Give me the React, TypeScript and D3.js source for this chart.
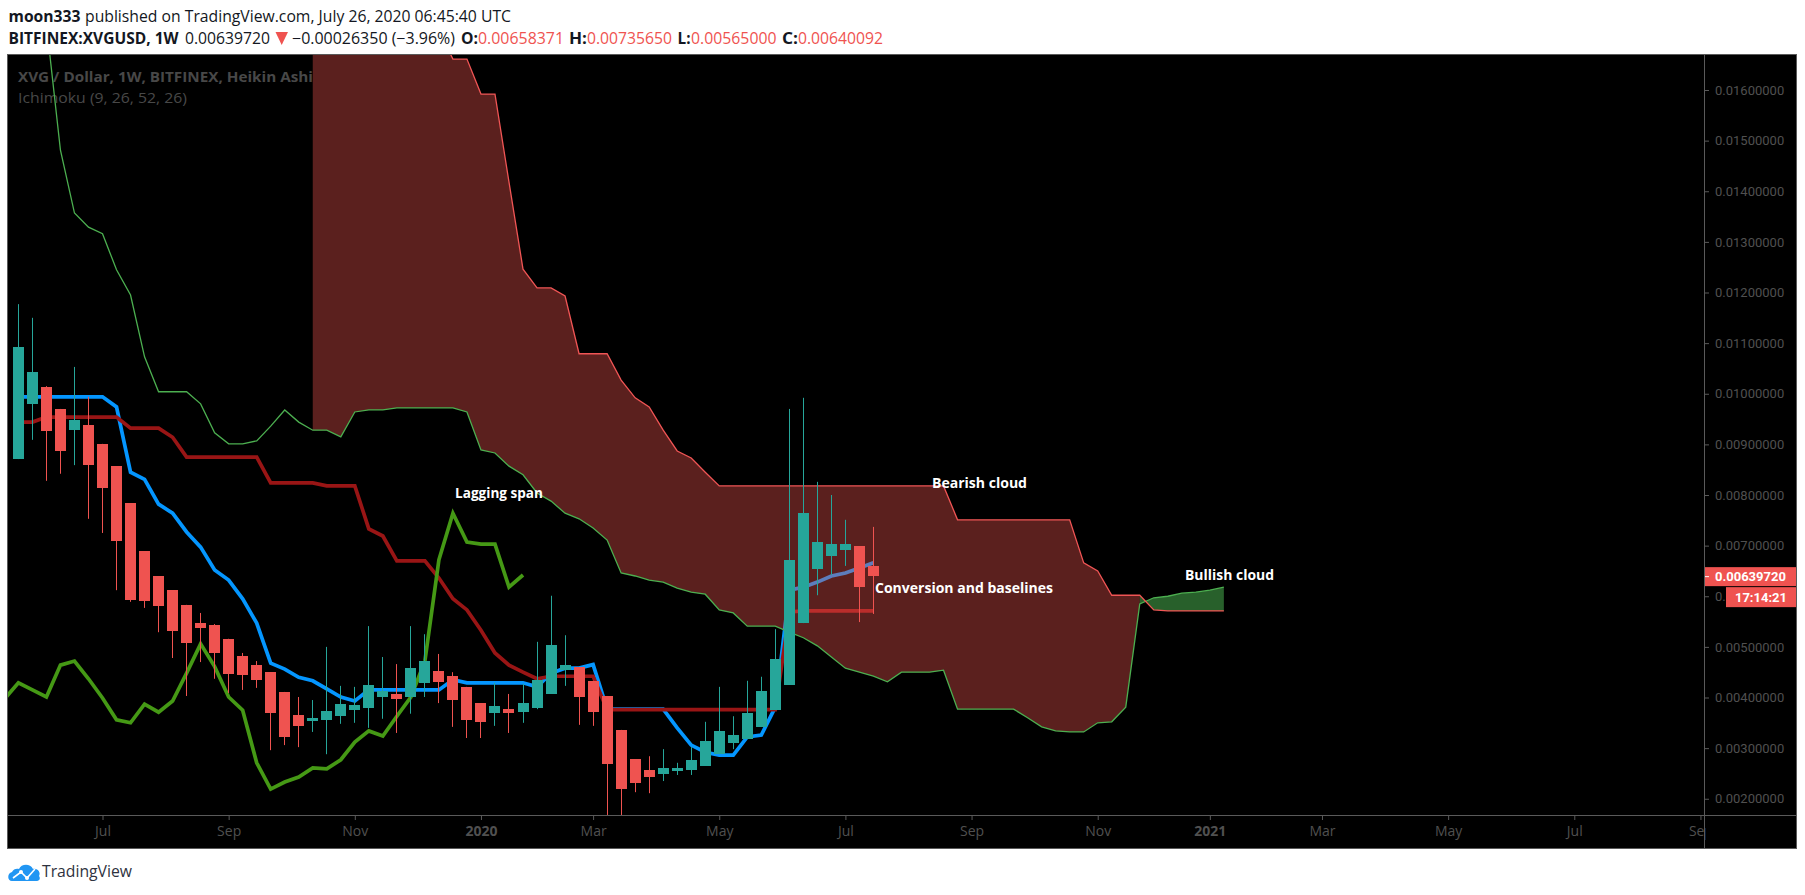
import { useEffect, useRef } from "react";
import * as d3 from "d3";

const WIDTH = 1805;
const HEIGHT = 895;
const CHART = { left: 8, top: 55, right: 1704, bottom: 815, outerRight: 1796, outerBottom: 848 };

const UP = "#26a69a";
const DOWN = "#ef5350";
const FONT = "'Open Sans', sans-serif";

// weekly Heikin Ashi bars, first bar is the week of May 20 2019
const OPENS = [0.00871,0.0098,0.01013,0.0097,0.00928,0.00938,0.00901,0.00857,0.00784,0.00689,0.0064,0.00612,0.00583,0.00547,0.00543,0.00516,0.00482,0.00464,0.0045,0.00411,0.00365,0.00354,0.00356,0.00364,0.00375,0.00379,0.00401,0.00407,0.00401,0.00429,0.00452,0.00442,0.00421,0.00389,0.00369,0.00377,0.00371,0.00379,0.00407,0.00454,0.0046,0.00433,0.00403,0.00336,0.00278,0.00257,0.00249,0.00255,0.00257,0.00265,0.00288,0.0031,0.00318,0.00342,0.00375,0.00425,0.00547,0.00654,0.0068,0.00691,0.00699,0.0066];
const HIGHS = [0.01177,0.0115,0.01015,0.0097,0.01053,0.00994,0.00901,0.00857,0.00784,0.00689,0.0064,0.00612,0.00583,0.00567,0.00545,0.00516,0.00488,0.00472,0.0045,0.00411,0.00401,0.00395,0.005,0.00423,0.00421,0.00541,0.0048,0.00466,0.00541,0.00525,0.00486,0.0045,0.00421,0.00389,0.00429,0.00407,0.00427,0.0051,0.00601,0.00523,0.0046,0.00433,0.00403,0.00336,0.00278,0.00284,0.00298,0.00271,0.00302,0.00352,0.00421,0.00363,0.00433,0.00441,0.00535,0.0097,0.00992,0.00826,0.008,0.00751,0.00699,0.00737];
const LOWS = [0.00871,0.00909,0.00828,0.00842,0.00859,0.00753,0.00725,0.00612,0.00589,0.00577,0.00529,0.00478,0.00403,0.0047,0.00437,0.00409,0.00415,0.00419,0.00296,0.00306,0.00302,0.00332,0.00288,0.00348,0.0035,0.0034,0.00358,0.0033,0.00368,0.00401,0.00389,0.00342,0.0032,0.0032,0.00344,0.0033,0.0035,0.00377,0.00407,0.00423,0.00346,0.00344,0.00168,0.00168,0.00213,0.00211,0.00235,0.00247,0.00247,0.00265,0.00288,0.00298,0.00318,0.00342,0.00375,0.00425,0.00547,0.00602,0.00642,0.0066,0.00549,0.00565];
const CLOSES = [0.01092,0.01043,0.00926,0.00887,0.00948,0.00859,0.00814,0.00709,0.00593,0.00591,0.00581,0.00531,0.00508,0.00537,0.00488,0.00447,0.00444,0.00435,0.00369,0.00322,0.00344,0.0036,0.00373,0.00387,0.00385,0.00425,0.00413,0.00397,0.00458,0.00472,0.00431,0.00395,0.00356,0.00352,0.00383,0.00369,0.00389,0.00435,0.00504,0.00464,0.00401,0.00371,0.00269,0.00219,0.00231,0.00243,0.00261,0.00261,0.00277,0.00314,0.00334,0.00326,0.00369,0.00413,0.00476,0.00672,0.00764,0.00707,0.00703,0.00703,0.00618,0.0064];

// Ichimoku lines
const CONVERSION = [0.00994,0.00994,0.00994,0.00994,0.00994,0.00994,0.00994,0.00974,0.00845,0.00831,0.00782,0.00764,0.00727,0.00697,0.00652,0.00632,0.00595,0.00547,0.00468,0.00456,0.0044,0.00433,0.00417,0.00401,0.00393,0.00415,0.00415,0.00415,0.00415,0.00415,0.00415,0.00435,0.00429,0.00429,0.00429,0.00429,0.00429,0.00421,0.00448,0.00458,0.00458,0.00465,0.00377,0.00377,0.00377,0.00377,0.00377,0.0034,0.00306,0.00292,0.00286,0.00286,0.00322,0.00326,0.00381,0.00612,0.00618,0.00628,0.0064,0.00646,0.00656,0.00666];
const BASE = [0.00944,0.00944,0.00954,0.00954,0.00954,0.00954,0.00954,0.00954,0.00932,0.00932,0.00932,0.00914,0.00875,0.00875,0.00875,0.00875,0.00875,0.00875,0.00824,0.00824,0.00824,0.00824,0.00818,0.00818,0.00818,0.00733,0.00719,0.0067,0.0067,0.0067,0.00636,0.00595,0.00573,0.00533,0.00488,0.00464,0.0045,0.00437,0.00442,0.00442,0.00442,0.00442,0.00376,0.00376,0.00376,0.00376,0.00376,0.00376,0.00376,0.00376,0.00376,0.00376,0.00376,0.00376,0.00376,0.00569,0.00571,0.00571,0.00571,0.00571,0.00571,0.00571];
// lagging span starts one bar before the first candle
const LAGGING_START = -1;
const LAGGING = [0.00397,0.00429,0.00415,0.00401,0.00464,0.00472,0.00437,0.00399,0.00356,0.0035,0.00387,0.00371,0.00393,0.00448,0.00506,0.00461,0.00401,0.00375,0.00271,0.00219,0.00233,0.00243,0.00261,0.00259,0.00277,0.00312,0.00334,0.00324,0.00363,0.00401,0.00472,0.00672,0.00764,0.00707,0.00703,0.00703,0.00618,0.00642];
const LEAD_A_START = 2;
const LEAD_A = [0.0173,0.01481,0.01357,0.01329,0.01316,0.01245,0.01195,0.01073,0.01004,0.01004,0.01004,0.0098,0.00923,0.00901,0.00901,0.00907,0.00936,0.00968,0.00944,0.00928,0.00928,0.00915,0.00964,0.00968,0.00968,0.00972,0.00972,0.00972,0.00972,0.00972,0.00964,0.00889,0.00883,0.00857,0.0084,0.00804,0.00788,0.00764,0.00753,0.00735,0.00711,0.00646,0.0064,0.00632,0.00628,0.00616,0.00608,0.00604,0.00573,0.00567,0.00541,0.00541,0.00541,0.00529,0.00518,0.00502,0.0048,0.00458,0.0045,0.00442,0.00431,0.0045,0.0045,0.0045,0.00454,0.00377,0.00377,0.00377,0.00377,0.00377,0.0036,0.00342,0.00334,0.00332,0.00332,0.0035,0.00352,0.00381,0.00585,0.00597,0.006,0.00606,0.00608,0.00612,0.00618];
const LEAD_B_START = 21;
const LEAD_B = [0.0176,0.0176,0.0176,0.0176,0.0176,0.0174,0.0174,0.0174,0.0174,0.01717,0.01661,0.01661,0.01592,0.01592,0.01418,0.01246,0.01209,0.01209,0.01193,0.01079,0.01079,0.01079,0.01027,0.00992,0.00974,0.00928,0.00887,0.00873,0.00845,0.00818,0.00818,0.00818,0.00818,0.00818,0.00818,0.00818,0.00818,0.00818,0.00818,0.00818,0.00818,0.00818,0.00818,0.00818,0.00818,0.00818,0.00751,0.00751,0.00751,0.00751,0.00751,0.00751,0.00751,0.00751,0.00751,0.00666,0.0065,0.00602,0.00602,0.00602,0.00573,0.00571,0.00571,0.00571,0.00571,0.00571];
// bar where the cloud turns from bearish to bullish
const TWIST_BAR = 80;

const PRICE_TICKS = [0.016,0.015,0.014,0.013,0.012,0.011,0.01,0.009,0.008,0.007,0.006,0.005,0.004,0.003,0.002];
const TIME_TICKS = [6,15,24,33,41,50,59,68,77,85,93,102,111,120];
const TIME_LABELS = ["Jul","Sep","Nov","2020","Mar","May","Jul","Sep","Nov","2021","Mar","May","Jul","Sep"];

const LAST_PRICE = 0.0063972;
const COUNTDOWN = "17:14:21";

const x = d3.scaleLinear().domain([0, 1]).range([18.4, 32.417]);
const y = d3.scaleLinear().domain([0.002, 0.016]).range([798.75, 90]);

type Pt = { i: number; v: number };

function series(values: number[], start: number): Pt[] {
  return values.map((v, k) => ({ i: start + k, v }));
}

function drawChart(el: SVGSVGElement) {
  const svg = d3.select(el);
  svg.selectAll("*").remove();

  svg.append("rect").attr("width", WIDTH).attr("height", HEIGHT).attr("fill", "white");

  // frame and black panel
  svg.append("rect")
    .attr("x", CHART.left - 0.5).attr("y", CHART.top - 0.5)
    .attr("width", CHART.outerRight - CHART.left + 1)
    .attr("height", CHART.outerBottom - CHART.top + 1)
    .attr("fill", "black").attr("stroke", "#5a5a5a");

  const defs = svg.append("defs");
  defs.append("clipPath").attr("id", "plot").append("rect")
    .attr("x", CHART.left).attr("y", CHART.top)
    .attr("width", CHART.right - CHART.left).attr("height", CHART.bottom - CHART.top);
  defs.append("clipPath").attr("id", "timeaxis").append("rect")
    .attr("x", CHART.left).attr("y", 0)
    .attr("width", CHART.right - CHART.left + 2).attr("height", CHART.outerBottom - CHART.bottom);

  // legend sits under the cloud
  svg.append("text")
    .attr("x", 18).attr("y", 82)
    .attr("font-family", FONT).attr("font-size", 15).attr("font-weight", 700)
    .attr("fill", "#484848").attr("textLength", 295).attr("lengthAdjust", "spacingAndGlyphs")
    .text("XVG / Dollar, 1W, BITFINEX, Heikin Ashi");
  svg.append("text")
    .attr("x", 18).attr("y", 103)
    .attr("font-family", FONT).attr("font-size", 15)
    .attr("fill", "#484848").attr("textLength", 169).attr("lengthAdjust", "spacingAndGlyphs")
    .text("Ichimoku (9, 26, 52, 26)");

  const plot = svg.append("g").attr("clip-path", "url(#plot)");

  const line = d3.line<Pt>().x((d) => x(d.i)).y((d) => y(d.v));
  const thick = (data: Pt[], color: string) =>
    plot.append("path")
      .attr("d", line(data))
      .attr("fill", "none").attr("stroke", color).attr("stroke-width", 3.7)
      .attr("stroke-linejoin", "miter");

  thick(series(CONVERSION, 0), "#0496ff");
  thick(series(BASE, 0), "#991515");
  thick(series(LAGGING, LAGGING_START), "#459915");

  // cloud, filled bar by bar range so the twist keeps its little bowtie
  const leadA = series(LEAD_A, LEAD_A_START);
  const leadB = series(LEAD_B, LEAD_B_START);
  const cloud = leadB.map((b) => ({
    i: b.i,
    a: LEAD_A[b.i - LEAD_A_START],
    b: b.v,
  }));
  const area = d3.area<{ i: number; a: number; b: number }>()
    .x((d) => x(d.i)).y0((d) => y(d.a)).y1((d) => y(d.b));

  plot.append("path")
    .attr("d", area(cloud.filter((d) => d.i <= TWIST_BAR)))
    .attr("fill", "#ef5350").attr("fill-opacity", 0.38);
  plot.append("path")
    .attr("d", area(cloud.filter((d) => d.i >= TWIST_BAR)))
    .attr("fill", "#43a047").attr("fill-opacity", 0.6);

  plot.append("path").attr("d", line(leadA))
    .attr("fill", "none").attr("stroke", "#4caf50").attr("stroke-width", 1.3);
  plot.append("path").attr("d", line(leadB))
    .attr("fill", "none").attr("stroke", "#f05555").attr("stroke-width", 1.3);

  // candles over everything
  OPENS.forEach((open, i) => {
    const close = CLOSES[i];
    const color = close >= open ? UP : DOWN;
    const px = Math.floor(x(i));
    plot.append("rect")
      .attr("x", px).attr("y", y(HIGHS[i]))
      .attr("width", 1).attr("height", y(LOWS[i]) - y(HIGHS[i]))
      .attr("fill", color);
    const top = Math.round(y(Math.max(open, close)));
    const bottom = Math.round(y(Math.min(open, close)));
    plot.append("rect")
      .attr("x", px - 5).attr("y", top)
      .attr("width", 11).attr("height", Math.max(bottom - top, 1))
      .attr("fill", color);
  });

  // annotations
  const NOTES: [string, number, number, number][] = [
    ["Lagging span", 455, 498, 88],
    ["Bearish cloud", 932, 488, 95],
    ["Conversion and baselines", 875, 593, 178],
    ["Bullish cloud", 1185, 580, 89],
  ];
  NOTES.forEach(([text, nx, ny, len]) => {
    svg.append("text")
      .attr("x", nx).attr("y", ny)
      .attr("font-family", FONT).attr("font-size", 14).attr("font-weight", 700)
      .attr("fill", "white").attr("textLength", len).attr("lengthAdjust", "spacingAndGlyphs")
      .text(text);
  });

  // price axis
  const priceAxis = svg.append("g")
    .attr("transform", `translate(${CHART.right},0)`)
    .call(
      d3.axisRight(y)
        .tickValues(PRICE_TICKS)
        .tickSize(5)
        .tickPadding(6)
        .tickFormat((d) => (d as number).toFixed(8))
    );
  priceAxis.select(".domain").remove();
  priceAxis.selectAll("line").attr("stroke", "#5a5a5a");
  priceAxis.selectAll("text")
    .attr("fill", "#505050")
    .attr("font-family", "Roboto, sans-serif").attr("font-size", 13);
  svg.append("line")
    .attr("x1", CHART.right + 0.5).attr("x2", CHART.right + 0.5)
    .attr("y1", CHART.top).attr("y2", CHART.outerBottom)
    .attr("stroke", "#5a5a5a");

  // time axis
  const timeAxis = svg.append("g")
    .attr("transform", `translate(0,${CHART.bottom})`)
    .attr("clip-path", "url(#timeaxis)")
    .call(
      d3.axisBottom(x)
        .tickValues(TIME_TICKS)
        .tickSize(5)
        .tickPadding(6)
        .tickFormat((_, k) => TIME_LABELS[k])
    );
  timeAxis.select(".domain").remove();
  timeAxis.selectAll("line").attr("stroke", "#5a5a5a");
  timeAxis.selectAll("text")
    .attr("fill", "#505050")
    .attr("font-family", FONT).attr("font-size", 14)
    .attr("font-weight", (_, k) => (/^\d+$/.test(TIME_LABELS[k]) ? 700 : 400));
  svg.append("line")
    .attr("x1", CHART.left).attr("x2", CHART.outerRight)
    .attr("y1", CHART.bottom + 0.5).attr("y2", CHART.bottom + 0.5)
    .attr("stroke", "#5a5a5a");

  // last price and countdown tags
  const lastY = y(LAST_PRICE);
  svg.append("rect")
    .attr("x", CHART.right + 1).attr("y", lastY - 9)
    .attr("width", CHART.outerRight - CHART.right - 1).attr("height", 19)
    .attr("fill", DOWN);
  svg.append("line")
    .attr("x1", CHART.right + 1).attr("x2", CHART.right + 5)
    .attr("y1", lastY + 0.5).attr("y2", lastY + 0.5)
    .attr("stroke", "white");
  svg.append("text")
    .attr("x", CHART.right + 11).attr("y", lastY + 5)
    .attr("font-family", "Roboto, sans-serif").attr("font-size", 13).attr("font-weight", 700)
    .attr("fill", "white")
    .text(LAST_PRICE.toFixed(8));
  svg.append("rect")
    .attr("x", 1726).attr("y", lastY + 11)
    .attr("width", CHART.outerRight - 1726).attr("height", 20)
    .attr("fill", DOWN);
  svg.append("text")
    .attr("x", 1761).attr("y", lastY + 26)
    .attr("text-anchor", "middle")
    .attr("font-family", "Roboto, sans-serif").attr("font-size", 13).attr("font-weight", 700)
    .attr("fill", "white")
    .text(COUNTDOWN);

  // header
  const BLACK = "#131722";
  const headerText = (
    text: string, tx: number, ty: number, len: number, color: string, bold = false
  ) =>
    svg.append("text")
      .attr("x", tx).attr("y", ty)
      .attr("font-family", FONT).attr("font-size", 15.5).attr("font-weight", bold ? 700 : 400)
      .attr("fill", color).attr("textLength", len).attr("lengthAdjust", "spacingAndGlyphs")
      .text(text);

  headerText("moon333", 8.5, 22, 72, BLACK, true);
  headerText("published on TradingView.com, July 26, 2020 06:45:40 UTC", 85, 22, 426, BLACK);
  headerText("BITFINEX:XVGUSD, 1W", 8.5, 44, 170, BLACK, true);
  headerText("0.00639720", 185, 44, 85, BLACK);
  svg.append("path")
    .attr("d", d3.line()([[275.5, 32], [288, 32], [281.7, 45]]) + "Z")
    .attr("fill", DOWN);
  headerText("\u22120.00026350 (\u22123.96%)", 292, 44, 163, BLACK);
  headerText("O:", 461, 44, 17, BLACK, true);
  headerText("0.00658371", 478, 44, 86, DOWN);
  headerText("H:", 569, 44, 18, BLACK, true);
  headerText("0.00735650", 587, 44, 85, DOWN);
  headerText("L:", 677.5, 44, 13, BLACK, true);
  headerText("0.00565000", 691, 44, 85.5, DOWN);
  headerText("C:", 782, 44, 16, BLACK, true);
  headerText("0.00640092", 798, 44, 85, DOWN);

  // logo
  const logo = svg.append("g").attr("transform", "translate(8,862)");
  logo.append("path")
    .attr("d", "M4 19 C-1 19 -1 11 4 10 C5 7 9 6 11 7 C13 2 22 1 25 7 C30 6 33 11 31 14 C33 17 31 19 28 19 Z")
    .attr("fill", "#2196f3");
  logo.append("path")
    .attr("d", d3.line()([[5, 16], [13, 10], [19, 16], [27, 7]]))
    .attr("fill", "none").attr("stroke", "white").attr("stroke-width", 1.6);
  ([[13, 10], [19, 16]] as [number, number][]).forEach(([cx, cy]) => {
    logo.append("circle").attr("cx", cx).attr("cy", cy).attr("r", 2).attr("fill", "white");
  });
  svg.append("text")
    .attr("x", 42).attr("y", 877)
    .attr("font-family", FONT).attr("font-size", 16)
    .attr("fill", "#2e3240").attr("textLength", 90).attr("lengthAdjust", "spacingAndGlyphs")
    .text("TradingView");
}

export default function App() {
  const ref = useRef<SVGSVGElement>(null);

  useEffect(() => {
    if (ref.current) drawChart(ref.current);
  }, []);

  return (
    <svg
      ref={ref}
      width={WIDTH}
      height={HEIGHT}
      style={{ position: "absolute", left: 0, top: 0, display: "block" }}
    />
  );
}
